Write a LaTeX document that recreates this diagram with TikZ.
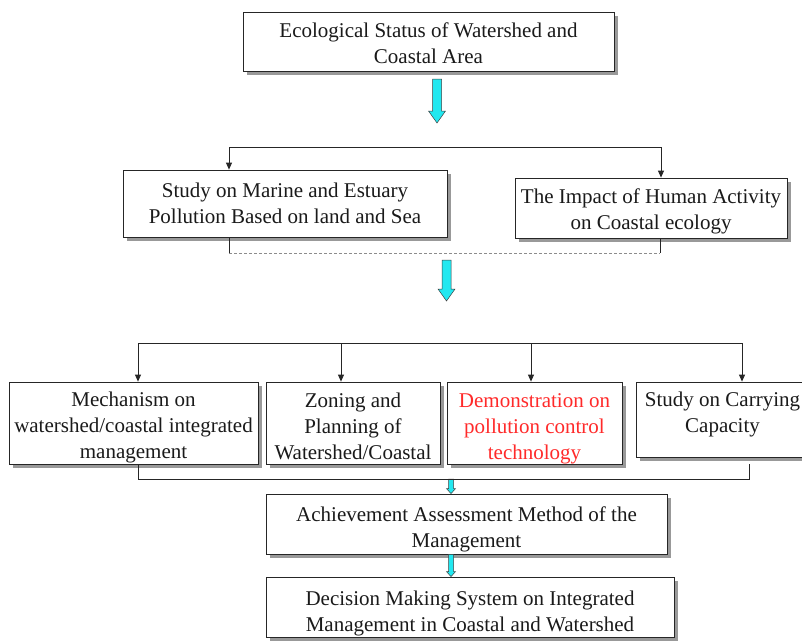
\documentclass[tikz,border=0pt]{standalone}
\usepackage{fontspec}
\setmainfont{Liberation Serif}
\usetikzlibrary{arrows.meta,shadows,calc}
\definecolor{txt}{HTML}{1A1A1A}
\definecolor{redtxt}{HTML}{FF2A2A}
\definecolor{cyanfill}{HTML}{22E8F0}
\newcommand\blockarrow[5]{%
  \path let \p1=(#1), \p2=(#2) in
    [fill=cyanfill, draw=black!75, line width=0.5pt]
    ({\x1-#3pt},{\y1}) -- ({\x1+#3pt},{\y1}) -- ({\x1+#3pt},{\y2+#5pt}) --
    ({\x1+#4pt},{\y2+#5pt}) -- ({\x1},{\y2}) -- ({\x1-#4pt},{\y2+#5pt}) --
    ({\x1-#3pt},{\y2+#5pt}) -- cycle;}
\tikzset{
  box/.style={draw=black!85, line width=0.8pt, fill=white, inner sep=0pt,
    drop shadow={shadow xshift=4pt, shadow yshift=-4pt, fill=black!40, opacity=1}},
  lbl/.style={inner sep=0pt, align=center, text=txt, font=\fontsize{21}{26}\selectfont},
  conn/.style={draw=black!85, line width=0.8pt},
  tip/.style={conn, -{Triangle[length=7pt,width=6pt]}},
  dashconn/.style={draw=black!45, line width=0.8pt, dash pattern=on 3pt off 2pt}
}
\begin{document}
\begin{tikzpicture}[x=1pt, y=-1pt]
\useasboundingbox (0,0) rectangle (802,640);
\clip (0,0) rectangle (802,640);

% boxes
\node[box, minimum width=371pt, minimum height=59pt] (top) at (428.5,41.5) {};
\node[lbl] (topT) at ($(top.center)+(0,2)$) {Ecological Status of Watershed and\\Coastal Area};
\node[box, minimum width=324pt, minimum height=67pt] (L2) at (285,203.5) {};
\node[lbl] (L2T) at ($(L2.center)+(0,0)$) {Study on Marine and Estuary\\Pollution Based on land and Sea};
\node[box, minimum width=272pt, minimum height=60pt] (R2) at (651,208) {};
\node[lbl] (R2T) at ($(R2.center)+(0,3)$) {The Impact of Human Activity\\on Coastal ecology};
\node[box, minimum width=249pt, minimum height=82pt] (A) at (133.5,423) {};
\node[lbl] (AT) at ($(A.center)+(0,4)$) {Mechanism on\\watershed/coastal integrated\\management};
\node[box, minimum width=174pt, minimum height=82pt] (B) at (353,423) {};
\node[lbl] (BT) at ($(B.center)+(0,3)$) {Zoning and\\Planning of\\Watershed/Coastal};
\node[box, minimum width=175pt, minimum height=82pt] (C) at (534.5,423) {};
\node[lbl, text=redtxt] (CT) at ($(C.center)+(0,6)$) {Demonstration on\\pollution control\\technology};
\node[box, minimum width=173pt, minimum height=75pt] (D) at (722.5,419.5) {};
\node[lbl] (DT) at ($(D.center)+(0,-5)$) {Study on Carrying\\Capacity};
\node[box, minimum width=401pt, minimum height=60pt] (E) at (466.5,524) {};
\node[lbl] (ET) at ($(E.center)+(0,5)$) {Achievement Assessment Method of the\\Management};
\node[box, minimum width=408pt, minimum height=60pt] (F) at (470,607) {};
\node[lbl] (FT) at ($(F.center)+(0,6)$) {Decision Making System on Integrated\\Management in Coastal and Watershed};

% coordinates
\coordinate (a1s) at (437,79);  \coordinate (a1e) at (437,123);
\coordinate (a2s) at (446.5,260); \coordinate (a2e) at (446.5,301);
\coordinate (busL) at (229,147); \coordinate (busR) at (661,147);
\coordinate (dL) at (229,253); \coordinate (dR) at (660,253);
\coordinate (b1) at (138,343); \coordinate (b2) at (341,343);
\coordinate (b3) at (531,343); \coordinate (b4) at (742,343);
\coordinate (c1) at (138,479); \coordinate (c4) at (749,479);
\coordinate (a3s) at (451,479);

% cyan block arrows
\blockarrow{a1s}{a1e}{4.5}{8.5}{12}
\blockarrow{a2s}{a2e}{4.5}{8.5}{12}
\blockarrow{a3s}{E.north -| a3s}{2.5}{4.5}{5}
\blockarrow{E.south -| a3s}{F.north -| a3s}{2.5}{4.5}{5}

% top bus
\draw[conn] (busL) -- (busR);
\draw[tip] (busL) -- (busL |- L2.north);
\draw[tip] (busR) -- (busR |- R2.north);

% dashed join
\draw[conn] (L2.south -| dL) -- (dL);
\draw[conn] (R2.south -| dR) -- (dR);
\draw[dashconn] (dL) -- (dR);

% level 3 bus
\draw[conn] (b1) -- (b4);
\draw[tip] (b1) -- (b1 |- A.north);
\draw[tip] (b2) -- (b2 |- B.north);
\draw[tip] (b3) -- (b3 |- C.north);
\draw[tip] (b4) -- (b4 |- D.north);

% bottom bracket
\draw[conn] (A.south -| c1) -- (c1) -- (c4) -- ($(D.south -| c4)+(0,7)$);
\end{tikzpicture}
\end{document}
